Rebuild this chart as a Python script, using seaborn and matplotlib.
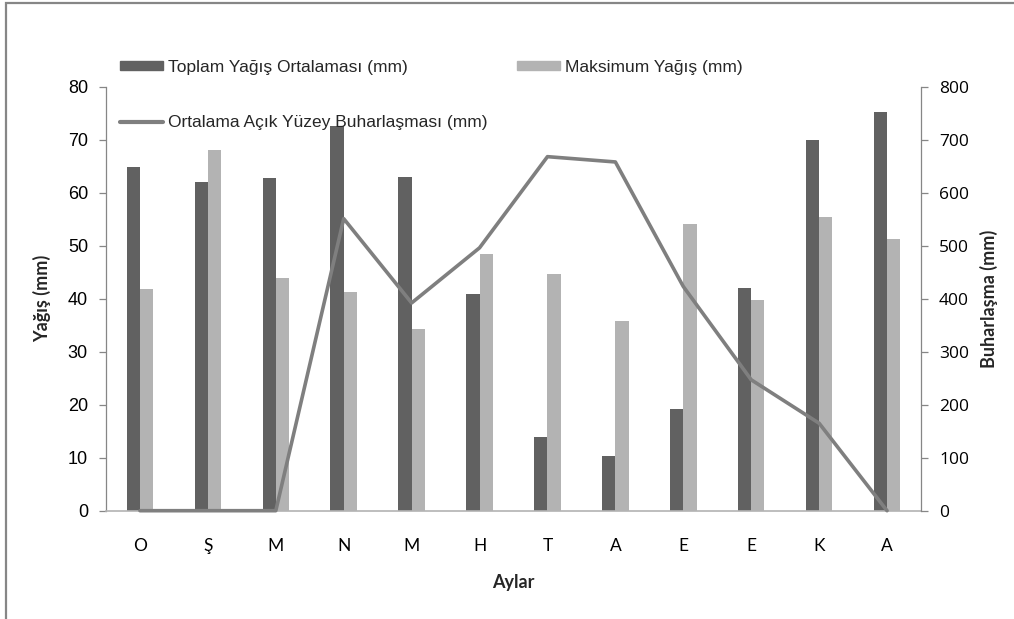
import matplotlib
matplotlib.use("Agg")
import matplotlib.pyplot as plt
import seaborn as sns
import pandas as pd
import numpy as np
from matplotlib.patches import Rectangle
from matplotlib.lines import Line2D

months = ["O", "Ş", "M", "N", "M", "H", "T", "A", "E", "E", "K", "A"]
toplam = [64.9, 62.0, 62.8, 72.6, 63.0, 40.8, 13.9, 10.3, 19.2, 42.0, 70.0, 75.2]
maksimum = [41.8, 68.1, 44.0, 41.2, 34.2, 48.4, 44.6, 35.7, 54.1, 39.8, 55.4, 51.3]
buhar = [0, 0, 0, 551, 392, 496, 668, 658, 423, 247, 165, 0]

lab_top = "Toplam Yağış Ortalaması (mm)"
lab_max = "Maksimum Yağış (mm)"
lab_buh = "Ortalama Açık Yüzey Buharlaşması (mm)"

c_dark = "#616161"
c_light = "#b3b3b3"
c_line = "#7f7f7f"

idx = list(range(len(months)))
df = pd.DataFrame({
    "idx": idx * 2,
    "val": toplam + maksimum,
    "seri": [lab_top] * 12 + [lab_max] * 12,
})

sns.set_theme(style="white")
plt.rcParams["font.family"] = ["Liberation Sans", "DejaVu Sans"]

fig = plt.figure(figsize=(10.14, 6.19), dpi=100)
ax = fig.add_axes([106 / 1014, 1 - 510.7 / 619, (921 - 106) / 1014, (510.7 - 86.7) / 619])

sns.barplot(data=df, x="idx", y="val", hue="seri", palette=[c_dark, c_light],
            width=0.39, ax=ax, legend=False, saturation=1, linewidth=0)

ax2 = ax.twinx()
sns.lineplot(x=idx, y=buhar, ax=ax2, color=c_line, linewidth=2.6, clip_on=False)

ax.set_xlim(-0.5, 11.5)
ax.set_ylim(0, 80)
ax2.set_ylim(0, 800)
ax.set_yticks(np.arange(0, 81, 10))
ax2.set_yticks(np.arange(0, 801, 100))
ax.set_xticks(idx)
ax.set_xticklabels(months, fontfamily="Lato", fontsize=12.5)

for a in (ax, ax2):
    for s in a.spines.values():
        s.set_visible(False)

ax.spines["left"].set_visible(True)
ax.spines["left"].set_color("#868686")
ax.spines["left"].set_linewidth(0.9)
ax.spines["bottom"].set_visible(True)
ax.spines["bottom"].set_color("#b3b3b3")
ax.spines["bottom"].set_linewidth(1.2)
ax2.spines["right"].set_visible(True)
ax2.spines["right"].set_color("#868686")
ax2.spines["right"].set_linewidth(0.9)

ax.tick_params(axis="y", left=True, length=5, width=0.9, color="#868686",
               labelsize=13, pad=8, labelcolor="black")
ax.tick_params(axis="x", bottom=False, pad=14, labelcolor="black")
ax2.tick_params(axis="y", right=True, length=5, width=0.9, color="#868686",
                labelsize=13, pad=8, labelcolor="black")
for t in ax2.get_yticklabels():
    t.set_fontfamily("Open Sans")
    t.set_fontsize(12.5)

ax.set_xlabel("Aylar", fontfamily="Lato", fontweight="bold", fontsize=13, labelpad=14)
ax.set_ylabel("Yağış (mm)", fontfamily="Lato", fontweight="bold", fontsize=13, labelpad=12)
ax2.set_ylabel("Buharlaşma (mm)", fontfamily="Lato", fontweight="bold", fontsize=13, labelpad=8)
ax.grid(False)
ax2.grid(False)

handles = [
    Rectangle((0, 0), 1, 1, color=c_dark),
    Line2D([0], [0], color=c_line, linewidth=3),
    Rectangle((0, 0), 1, 1, color=c_light),
]
labels = [lab_top, lab_buh, lab_max]
leg = fig.legend(handles, labels, ncol=2, loc="upper left",
                 bbox_to_anchor=(120 / 1014, 1 - 60 / 619), frameon=False,
                 fontsize=12.5, handlelength=2.47, handleheight=0.45,
                 handletextpad=0.3, columnspacing=1.7, labelspacing=2.3,
                 borderaxespad=0, borderpad=0)

border = Rectangle((6 / 1014, -0.1), 1.2, 1 - 3.5 / 619 + 0.1, transform=fig.transFigure,
                   fill=False, edgecolor="#868686", linewidth=1.6, clip_on=False)
fig.patches.append(border)

fig.savefig("out.png", dpi=100)
